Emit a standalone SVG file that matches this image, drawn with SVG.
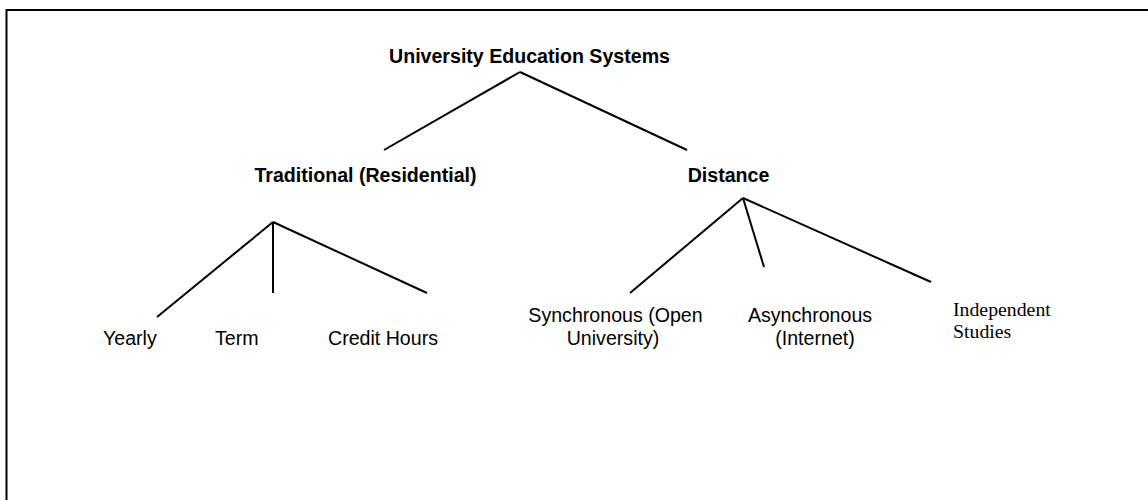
<svg xmlns="http://www.w3.org/2000/svg" width="1148" height="500" viewBox="0 0 1148 500">
<style>
.t{font-family:"Liberation Sans",Arial,sans-serif;font-size:19.6px;fill:#000}
.b{font-weight:bold}
.tm{font-family:"Liberation Serif","Times New Roman",serif;font-size:19.8px;fill:#000}
.c line{stroke:#000;stroke-width:2;stroke-linecap:butt}
</style>
<rect x="6.5" y="10" width="1300" height="700" fill="#fff" stroke="#000" stroke-width="2"/>
<g class="c" id="connectors">
<line x1="520" y1="72" x2="384" y2="150"/>
<line x1="520" y1="72" x2="687" y2="150"/>
<line x1="273" y1="222" x2="157" y2="317"/>
<line x1="273" y1="222" x2="273" y2="293"/>
<line x1="273" y1="222" x2="427" y2="293"/>
<line x1="743" y1="198" x2="630" y2="293"/>
<line x1="743" y1="198" x2="764" y2="267"/>
<line x1="743" y1="198" x2="931" y2="282"/>
</g>
<g id="root"><text class="t b" x="529.5" y="63" text-anchor="middle">University Education Systems</text></g>
<g id="traditional"><text class="t b" x="365.5" y="182" text-anchor="middle">Traditional (Residential)</text></g>
<g id="distance"><text class="t b" x="728.5" y="182" text-anchor="middle">Distance</text></g>
<g id="yearly"><text class="t" x="103" y="345">Yearly</text></g>
<g id="term"><text class="t" x="215" y="345">Term</text></g>
<g id="credit"><text class="t" x="328" y="345">Credit Hours</text></g>
<g id="synchronous"><text class="t" x="615.5" y="322" text-anchor="middle">Synchronous (Open<tspan x="613" y="345">University)</tspan></text></g>
<g id="asynchronous"><text class="t" x="810" y="322" text-anchor="middle">Asynchronous<tspan x="815" y="345">(Internet)</tspan></text></g>
<g id="independent"><text class="tm" x="953" y="316">Independent<tspan x="953" y="338">Studies</tspan></text></g>
</svg>
